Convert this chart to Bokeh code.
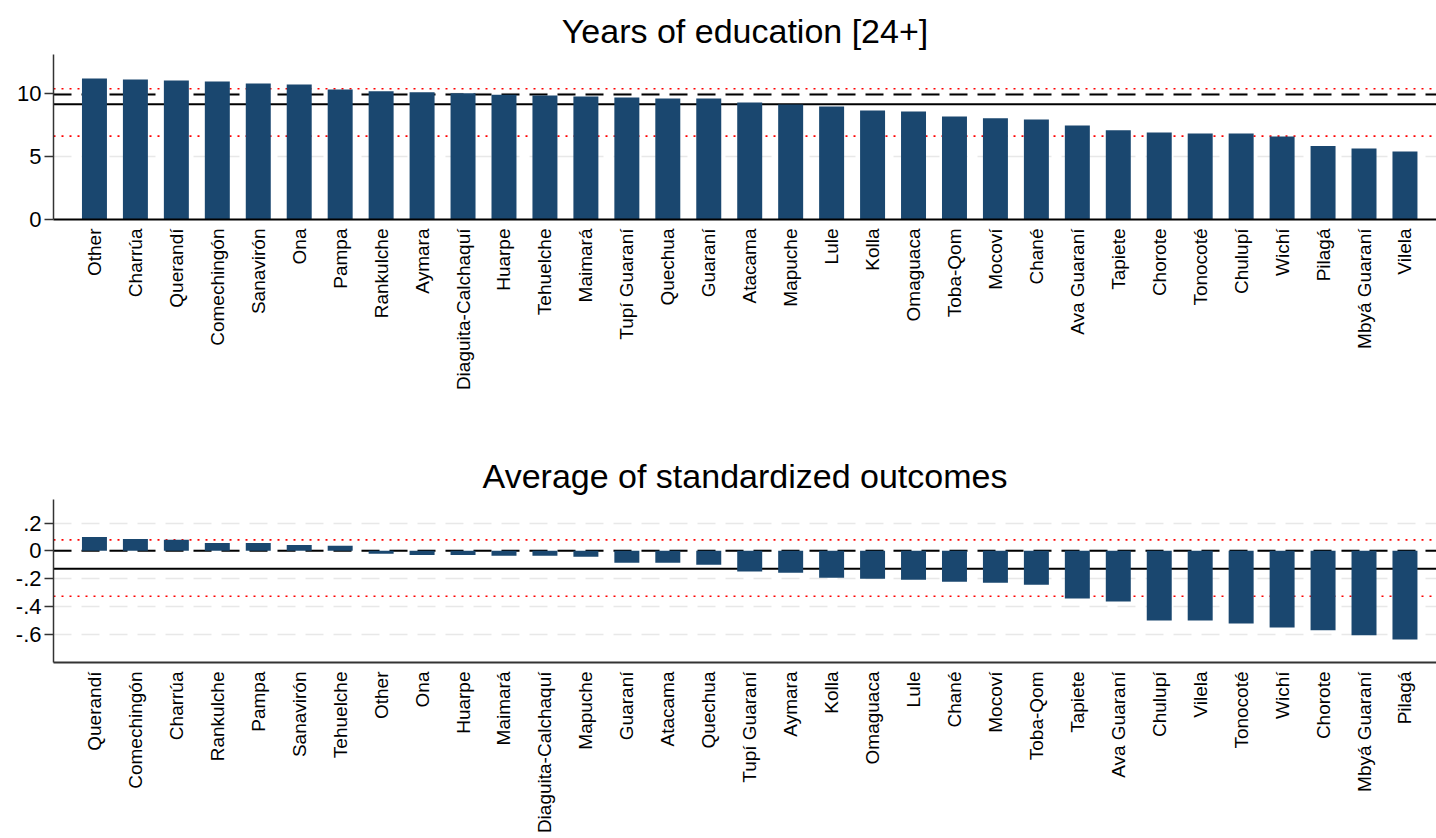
import numpy as np
from bokeh.plotting import figure
from bokeh.models import Range1d, FixedTicker, Span, CustomJSTickFormatter, ColumnDataSource
from bokeh.layouts import column
from bokeh.embed import file_html
from bokeh.resources import INLINE

# ---------------- data ----------------
top_title = "Years of education [24+]"
top_groups = ["Other", "Charrúa", "Querandí", "Comechingón", "Sanavirón", "Ona", "Pampa",
              "Rankulche", "Aymara", "Diaguita-Calchaquí", "Huarpe", "Tehuelche", "Maimará",
              "Tupí Guaraní", "Quechua", "Guaraní", "Atacama", "Mapuche", "Lule", "Kolla",
              "Omaguaca", "Toba-Qom", "Mocoví", "Chané", "Ava Guaraní", "Tapiete", "Chorote",
              "Tonocoté", "Chulupí", "Wichí", "Pilagá", "Mbyá Guaraní", "Vilela"]
top_values = [11.16, 11.08, 11.00, 10.93, 10.77, 10.69, 10.29, 10.16, 10.08, 10.00, 9.87,
              9.82, 9.74, 9.66, 9.58, 9.58, 9.26, 9.10, 8.95, 8.63, 8.55, 8.16, 8.02, 7.92,
              7.44, 7.07, 6.89, 6.81, 6.81, 6.57, 5.81, 5.62, 5.38]
top_ref_dashed = 9.90
top_ref_solid = 9.13
top_ref_dotted = [10.35, 6.60]
top_ticks = [0, 5, 10]

bot_title = "Average of standardized outcomes"
bot_groups = ["Querandí", "Comechingón", "Charrúa", "Rankulche", "Pampa", "Sanavirón",
              "Tehuelche", "Other", "Ona", "Huarpe", "Maimará", "Diaguita-Calchaquí",
              "Mapuche", "Guaraní", "Atacama", "Quechua", "Tupí Guaraní", "Aymara", "Kolla",
              "Omaguaca", "Lule", "Chané", "Mocoví", "Toba-Qom", "Tapiete", "Ava Guaraní",
              "Chulupí", "Vilela", "Tonocoté", "Wichí", "Chorote", "Mbyá Guaraní", "Pilagá"]
bot_values = [0.100, 0.086, 0.079, 0.057, 0.057, 0.043, 0.036, -0.021, -0.029, -0.029,
              -0.036, -0.036, -0.043, -0.086, -0.086, -0.100, -0.148, -0.157, -0.193,
              -0.200, -0.207, -0.221, -0.229, -0.243, -0.343, -0.364, -0.500, -0.500,
              -0.521, -0.550, -0.571, -0.607, -0.636]
bot_ref_dashed = 0.0
bot_ref_solid = -0.129
bot_ref_dotted = [0.079, -0.326]
bot_ticks = [-0.6, -0.4, -0.2, 0, 0.2]

BAR = "#1a476f"
FONT = "Liberation Sans"


def panel(title, groups, values, yr, yticks, dashed, solid, dotted, height,
          b_top, b_bottom, b_left, xaxis_color, ytick_code):
    p = figure(width=1436, height=height, output_backend="svg", toolbar_location=None,
               x_range=Range1d(0, 33.77), y_range=Range1d(*yr),
               min_border_left=b_left, min_border_right=0,
               min_border_top=b_top, min_border_bottom=b_bottom)
    p.outline_line_color = None
    p.background_fill_color = "white"
    p.border_fill_color = "white"

    p.title.text = title
    p.title.align = "center"
    p.title.text_font = FONT
    p.title.text_font_size = "34px"
    p.title.text_font_style = "normal"
    p.title.text_color = "black"

    idx = list(range(1, len(groups) + 1))
    src = ColumnDataSource(dict(x=idx, v=values, name=groups))

    # grid
    p.xgrid.visible = False
    p.ygrid.ticker = FixedTicker(ticks=yticks)
    p.ygrid.grid_line_color = "#e8e8e8"
    p.ygrid.grid_line_width = 1.5
    p.ygrid.grid_line_dash = "18 10"

    # reference lines
    for d in dotted:
        p.add_layout(Span(location=d, dimension="width", line_color="#ff0000",
                          line_width=1.6, line_dash="2 6", level="underlay"))
    p.add_layout(Span(location=dashed, dimension="width", line_color="black",
                      line_width=2, line_dash="18 10", level="underlay"))
    p.add_layout(Span(location=solid, dimension="width", line_color="black",
                      line_width=2, level="underlay"))

    p.vbar(x="x", top="v", bottom=0, width=0.61, source=src,
           fill_color=BAR, line_color=None)

    # x axis
    xa = p.xaxis[0]
    xa.ticker = FixedTicker(ticks=idx)
    xa.formatter = CustomJSTickFormatter(args=dict(names=groups),
                                         code="const i = Math.round(tick) - 1; return (i >= 0 && i < names.length) ? names[i] : '';")
    xa.major_label_orientation = np.pi / 2
    xa.major_tick_in = 0
    xa.major_tick_out = 0
    xa.minor_tick_in = 0
    xa.minor_tick_out = 0
    xa.major_label_standoff = 9
    xa.major_label_text_font = FONT
    xa.major_label_text_font_size = "19px"
    xa.major_label_text_color = "black"
    xa.axis_line_color = xaxis_color
    xa.axis_line_width = 2

    # y axis
    ya = p.yaxis[0]
    ya.ticker = FixedTicker(ticks=yticks)
    ya.formatter = CustomJSTickFormatter(code=ytick_code)
    ya.major_tick_in = 0
    ya.major_tick_out = 9
    ya.minor_tick_in = 0
    ya.minor_tick_out = 0
    ya.major_tick_line_color = "#333333"
    ya.major_tick_line_width = 1.5
    ya.axis_line_color = "#333333"
    ya.axis_line_width = 1.5
    ya.major_label_standoff = 3
    ya.major_label_text_font = FONT
    ya.major_label_text_font_size = "22px"
    ya.major_label_text_color = "black"
    return p


top_code = "return tick.toFixed(0);"
bot_code = ("if (Math.abs(tick) < 1e-9) return '0';"
            "let s = tick.toFixed(1); return s.replace('0.', '.');")

p1 = panel(top_title, top_groups, top_values, (0, 13.06), top_ticks,
           top_ref_dashed, top_ref_solid, top_ref_dotted,
           height=430, b_top=54, b_bottom=211, b_left=51, xaxis_color="black",
           ytick_code=top_code)
p2 = panel(bot_title, bot_groups, bot_values, (-0.802, 0.369), bot_ticks,
           bot_ref_dashed, bot_ref_solid, bot_ref_dotted,
           height=406, b_top=69, b_bottom=173, b_left=53, xaxis_color="#333333",
           ytick_code=bot_code)

layout = column(p1, p2, spacing=0)
open("out.html", "w").write(file_html(layout, INLINE))
